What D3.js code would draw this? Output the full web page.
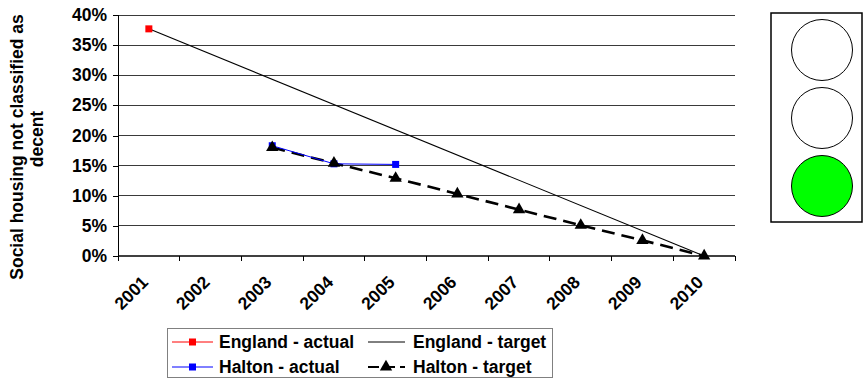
<!DOCTYPE html>
<html><head><meta charset="utf-8">
<script src="https://cdn.jsdelivr.net/npm/d3@7"></script>
<style>body{margin:0;background:#fff;} svg{display:block;font-family:"Liberation Sans",Arial,sans-serif;}</style>
</head><body>
<svg id="c" width="864" height="381"></svg>
<script>
const years = ["2001","2002","2003","2004","2005","2006","2007","2008","2009","2010"];
const yTicks = [0,5,10,15,20,25,30,35,40];
const englandActual = [{year:"2001", value:37.7}];
const englandTarget = [{year:"2001", value:37.7},{year:"2010", value:0}];
const haltonActual = [{year:"2003", value:18.3},{year:"2004", value:15.3},{year:"2005", value:15.2}];
const haltonTarget = [
  {year:"2003", value:18.0},{year:"2004", value:15.4},{year:"2005", value:12.9},
  {year:"2006", value:10.3},{year:"2007", value:7.7},{year:"2008", value:5.1},
  {year:"2009", value:2.6},{year:"2010", value:0}];
const legendItems = ["England - actual","England - target","Halton - actual","Halton - target"];
const lightColors = ["#ffffff","#ffffff","#00ff00"];

const svg = d3.select("#c");
const L=118, R=735, T=15, B=256;
const FS = 17.5;
const x = d3.scaleBand().domain(years).range([L,R]);
const y = d3.scaleLinear().domain([0,40]).range([B,T]);
const cx = d => x(d.year)+x.bandwidth()/2;

// gridlines
svg.append("g").selectAll("line").data(yTicks.filter(t=>t>0)).join("line")
  .attr("x1",L).attr("x2",R).attr("y1",d=>y(d)).attr("y2",d=>y(d))
  .attr("stroke","#3a3a3a").attr("stroke-width",1).attr("shape-rendering","crispEdges");

// y axis
const ya = svg.append("g").attr("transform",`translate(${L},0)`)
  .call(d3.axisLeft(y).tickValues(yTicks).tickFormat(d=>d+"%").tickSize(5).tickPadding(6));
ya.select(".domain").attr("stroke","#000").attr("shape-rendering","crispEdges");
ya.selectAll(".tick line").attr("stroke","#000").attr("shape-rendering","crispEdges");
ya.selectAll("text").attr("font-size",FS).attr("font-weight","bold").attr("fill","#000")
  .attr("font-family","Liberation Sans, Arial, sans-serif");

// x axis
svg.append("line").attr("x1",L).attr("x2",R).attr("y1",B).attr("y2",B)
  .attr("stroke","#000").attr("stroke-width",1.5);
const edges = years.map(d=>x(d)).concat([R]);
svg.append("g").selectAll("line").data(edges).join("line")
  .attr("x1",d=>d).attr("x2",d=>d).attr("y1",B).attr("y2",B+5)
  .attr("stroke","#000").attr("shape-rendering","crispEdges");
svg.append("g").selectAll("text").data(years).join("text")
  .attr("transform",d=>`translate(${x(d)+x.bandwidth()/2-4},${B+23}) rotate(-45)`)
  .attr("text-anchor","end").attr("dy","0.35em")
  .attr("font-size",FS).attr("font-weight","bold").text(d=>d);

// y title
const yt = svg.append("text").attr("transform","translate(23,147) rotate(-90)")
  .attr("text-anchor","middle").attr("font-size",FS).attr("font-weight","bold");
yt.append("tspan").attr("x",0).attr("dy",0).text("Social housing not classified as");
yt.append("tspan").attr("x",8).attr("dy",20).text("decent");

const line = d3.line().x(cx).y(d=>y(d.value));

// England target
svg.append("path").datum(englandTarget).attr("d",line).attr("fill","none")
  .attr("stroke","#000").attr("stroke-width",1.1);
// Halton target
svg.append("path").datum(haltonTarget).attr("d",line).attr("fill","none")
  .attr("stroke","#000").attr("stroke-width",2.6).attr("stroke-dasharray","13,7");
// Halton actual
svg.append("path").datum(haltonActual).attr("d",line).attr("fill","none")
  .attr("stroke","#0000ff").attr("stroke-width",1);
svg.append("g").selectAll("rect").data(haltonActual).join("rect")
  .attr("x",d=>cx(d)-3.5).attr("y",d=>y(d.value)-3.5).attr("width",7).attr("height",7).attr("fill","#0000ff");
const tri = d3.symbol().type(d3.symbolTriangle).size(66);
svg.append("g").selectAll("path").data(haltonTarget).join("path")
  .attr("d",tri).attr("transform",d=>`translate(${cx(d)},${y(d.value)})`).attr("fill","#000");
// England actual
svg.append("g").selectAll("rect").data(englandActual).join("rect")
  .attr("x",d=>cx(d)-3.5).attr("y",d=>y(d.value)-3.5).attr("width",7).attr("height",7).attr("fill","#ff0000");

// legend
const lg = svg.append("g");
lg.append("rect").attr("x",167.5).attr("y",328.5).attr("width",385).attr("height",49)
  .attr("fill","#fff").attr("stroke","#808080").attr("stroke-width",1);
const lpos = [[172,342],[368,342],[172,367],[368,367]];
legendItems.forEach((name,i)=>{
  const [lx,ly]=lpos[i];
  const g = lg.append("g");
  if(i===0||i===2){
    const col = i===0?"#ff0000":"#0000ff";
    g.append("line").attr("x1",lx).attr("x2",lx+41).attr("y1",ly).attr("y2",ly).attr("stroke",col);
    g.append("rect").attr("x",lx+17).attr("y",ly-3.5).attr("width",7).attr("height",7).attr("fill",col);
    g.append("text").attr("x",lx+47).attr("y",ly).attr("dy","0.36em").attr("font-size",FS).attr("font-weight","bold").text(name);
  } else if(i===1){
    g.append("line").attr("x1",lx).attr("x2",lx+37).attr("y1",ly).attr("y2",ly).attr("stroke","#000");
    g.append("text").attr("x",lx+45).attr("y",ly).attr("dy","0.36em").attr("font-size",FS).attr("font-weight","bold").text(name);
  } else {
    g.append("line").attr("x1",lx).attr("x2",lx+37).attr("y1",ly).attr("y2",ly).attr("stroke","#000").attr("stroke-width",2).attr("stroke-dasharray","11,5");
    g.append("path").attr("d",tri).attr("transform",`translate(${lx+18},${ly})`).attr("fill","#000");
    g.append("text").attr("x",lx+45).attr("y",ly).attr("dy","0.36em").attr("font-size",FS).attr("font-weight","bold").text(name);
  }
});

// traffic light
svg.append("rect").attr("x",771).attr("y",13).attr("width",91).attr("height",209)
  .attr("fill","#fff").attr("stroke","#000").attr("stroke-width",1.5);
svg.append("g").selectAll("circle").data(lightColors).join("circle")
  .attr("cx",822).attr("cy",(d,i)=>50+i*68).attr("r",30.5)
  .attr("fill",d=>d).attr("stroke","#000").attr("stroke-width",1);
</script>
</body></html>
